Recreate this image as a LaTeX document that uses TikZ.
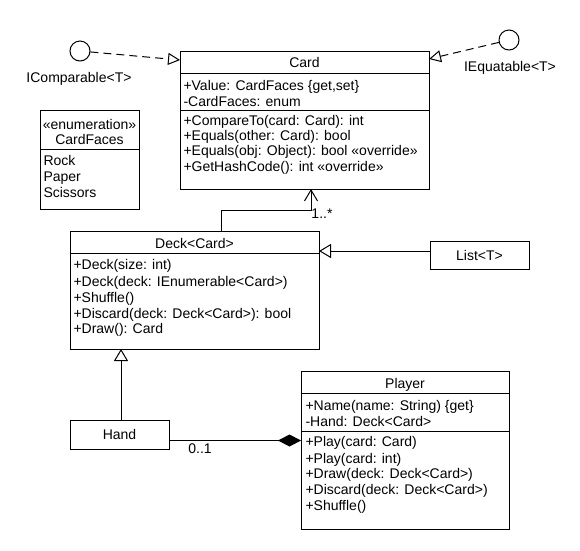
\documentclass[tikz,border=0pt]{standalone}
\usepackage{fontspec}
\setmainfont{Liberation Sans}
\usetikzlibrary{arrows.meta}
\newcommand\umlL[4]{\node[txt, anchor=base west] (#1) at (#2,#3+5) {#4};}
\newcommand\umlC[4]{\node[txt, anchor=base] (#1) at (#2,#3+5) {#4};}
\begin{document}
\begin{tikzpicture}[x=1pt,y=-1pt, line width=1pt,
  box/.style={draw, rectangle, inner sep=0pt, outer sep=0pt, anchor=north west},
  txt/.style={inner sep=0pt, font=\fontsize{14}{16}\selectfont},
  iface/.style={draw, circle, minimum size=20pt, inner sep=0pt},
  realize/.style={dash pattern=on 8pt off 5pt, -{Triangle[open, length=12pt, width=12pt]}},
  general/.style={-{Triangle[open, length=12pt, width=14pt]}},
  assoc/.style={-{Straight Barb[length=11pt, width=13pt]}},
  compose/.style={-{Diamond[length=23pt, width=12pt]}}]
\useasboundingbox (0,0) rectangle (580,550);
\fill[white] (0,0) rectangle (580,550);

% Card
\node[box, minimum width=249pt, minimum height=138pt] (card) at (180,51) {};
\draw ([yshift=-22pt]card.north west) -- ([yshift=-22pt]card.north east);
\draw ([yshift=-59pt]card.north west) -- ([yshift=-59pt]card.north east);
\umlC{cardh}{304.5}{62}{Card}
\umlL{card1}{183}{85.7}{+Value: CardFaces \{get,set\}}
\umlL{card2}{183}{101}{-CardFaces: enum}
\umlL{card3}{183}{120}{+CompareTo(card: Card): int}
\umlL{card4}{183}{135}{+Equals(other: Card): bool}
\umlL{card5}{183}{150.5}{+Equals(obj: Object): bool «override»}
\umlL{card6}{183}{166}{+GetHashCode(): int «override»}

% CardFaces
\node[box, minimum width=99pt, minimum height=99pt] (faces) at (40,110) {};
\draw ([yshift=-39pt]faces.north west) -- ([yshift=-39pt]faces.north east);
\umlC{facesh1}{89.5}{124}{«enumeration»}
\umlC{facesh2}{89.5}{139}{CardFaces}
\umlL{faces1}{43}{160}{Rock}
\umlL{faces2}{43}{176}{Paper}
\umlL{faces3}{43}{192}{Scissors}

% Interfaces
\node[iface] (icomp) at (80,51) {};
\node[txt] (icompl) at (79,79) {IComparable<T>};
\node[iface] (iequ) at (509,40) {};
\node[txt] (iequl) at (510,68) {IEquatable<T>};
\draw[realize] (icomp) -- ([yshift=-9pt]card.north west);
\draw[realize] (iequ) -- ([yshift=-8pt]card.north east);

% Deck
\node[box, minimum width=249pt, minimum height=118pt] (deck) at (70,231) {};
\draw ([yshift=-22pt]deck.north west) -- ([yshift=-22pt]deck.north east);
\umlC{deckh}{194.5}{243}{Deck<Card>}
\umlL{deck1}{73}{264.5}{+Deck(size: int)}
\umlL{deck2}{73}{281}{+Deck(deck: IEnumerable<Card>)}
\umlL{deck3}{73}{297}{+Shuffle()}
\umlL{deck4}{73}{313}{+Discard(deck: Deck<Card>): bool}
\umlL{deck5}{73}{328.5}{+Draw(): Card}

% List
\node[box, minimum width=99pt, minimum height=28pt] (list) at (430,241) {};
\node[txt] (listl) at (list.center) {List<T>};

% Hand
\node[box, minimum width=99pt, minimum height=29pt] (hand) at (70,420) {};
\node[txt] (handl) at (hand.center) {Hand};

% Player
\node[box, minimum width=208pt, minimum height=158pt] (player) at (301,371) {};
\draw ([yshift=-22pt]player.north west) -- ([yshift=-22pt]player.north east);
\draw ([yshift=-60pt]player.north west) -- ([yshift=-60pt]player.north east);
\umlC{playerh}{405}{383}{Player}
\umlL{player1}{305}{405}{+Name(name: String) \{get\}}
\umlL{player2}{305}{421}{-Hand: Deck<Card>}
\umlL{player3}{305}{441.5}{+Play(card: Card)}
\umlL{player4}{305}{458}{+Play(card: int)}
\umlL{player5}{305}{473.5}{+Draw(deck: Deck<Card>)}
\umlL{player6}{305}{489.5}{+Discard(deck: Deck<Card>)}
\umlL{player7}{305}{505.5}{+Shuffle()}

% Connectors
\draw[assoc] ([xshift=151pt]deck.north west) -- ++(0,-21) -| ([xshift=131pt]card.south west);
\node[txt] (mult1) at (322,214) {1..*};
\draw[general] ([yshift=4pt]list.west) -- ([yshift=4pt]list.west -| deck.east);
\draw[general] ([xshift=51pt]hand.north west) -- ([xshift=51pt]hand.north west |- deck.south);
\draw[compose] ([yshift=-6pt]hand.east) -- ([yshift=-6pt]hand.east -| player.west);
\node[txt] (mult2) at (200,449) {0..1};
\end{tikzpicture}
\end{document}
